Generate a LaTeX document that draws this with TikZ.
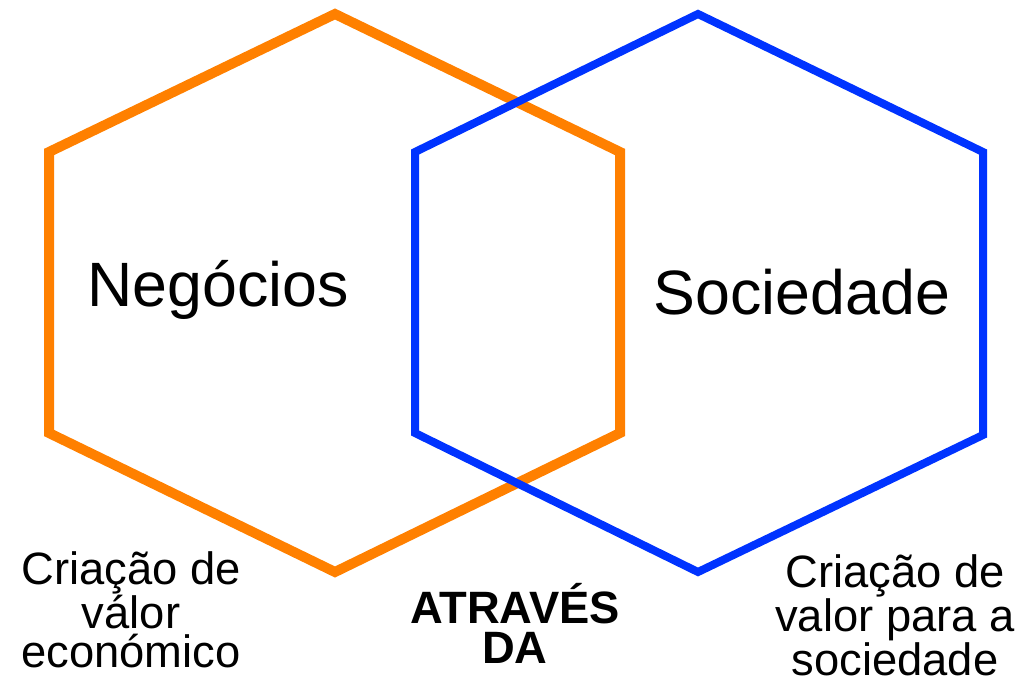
\documentclass[tikz,border=0pt]{standalone}
\usepackage{fontspec}
\setmainfont{Liberation Sans}
\definecolor{hexorange}{RGB}{255,128,0}
\definecolor{hexblue}{RGB}{0,51,255}

\begin{document}
\begin{tikzpicture}[x=0.75pt,y=-0.75pt,line join=miter,
      neg hex/.style={draw=hexorange,line width=7.5pt},
      soc hex/.style={draw=hexblue,line width=6pt},
      main node/.style={font=\fontsize{47}{50}\selectfont,inner sep=0pt,anchor=base},
      note node/.style={font=\fontsize{34}{29}\selectfont,align=center,inner sep=0pt,anchor=base}]
    \useasboundingbox (0,0) rectangle (1026,681);
    % hexagons
    \draw[neg hex] (49,152) -- (335,14) -- (620,152) -- (620,433)
                   -- (335,572) -- (49,433) -- cycle;
    \draw[soc hex] (415,152) -- (698,14) -- (983,152) -- (983,435)
                   -- (698,572) -- (415,433) -- cycle;
    % labels (base = last line)
    \node[main node] (neg) at (218,307) {Negócios};
    \node[main node] (soc) at (802,315) {Sociedade};
    \node[note node] (econ) at (131,667) {Criação de\\válor\\económico};
    \node[note node,font=\fontsize{34}{30}\selectfont\bfseries] (atr) at (515,663) {ATRAVÉS\\DA};
    \node[note node] (socval) at (895,675) {Criação de\\valor para a\\sociedade};
\end{tikzpicture}
\end{document}
